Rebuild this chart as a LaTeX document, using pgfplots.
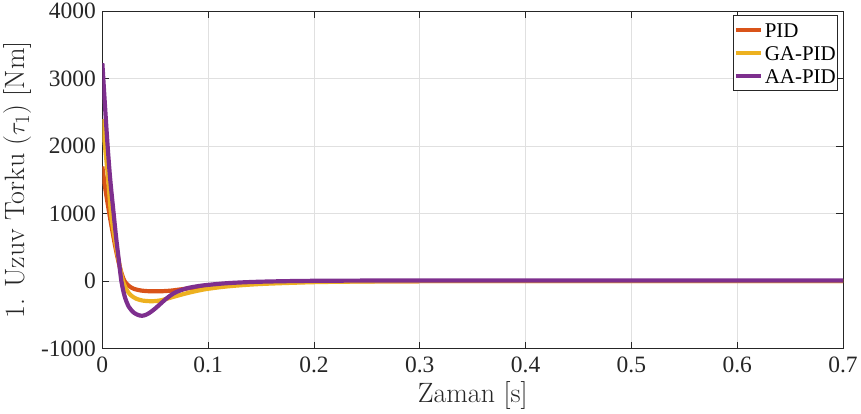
\documentclass[border=0pt]{standalone}
\usepackage{pgfplots}
\pgfplotsset{compat=1.18}
\usepackage{fontspec}
\newfontfamily\timesf{Liberation Serif}
\definecolor{mred}{rgb}{0.850,0.325,0.098}
\definecolor{myel}{rgb}{0.929,0.694,0.125}
\definecolor{mpur}{rgb}{0.494,0.184,0.556}
\begin{document}
\begin{tikzpicture}
\begin{axis}[
  scale only axis, width=742pt, height=338pt,
  xmin=0, xmax=0.7, ymin=-1000, ymax=4000,
  xtick={0,0.1,0.2,0.3,0.4,0.5,0.6,0.7},
  ytick={-1000,0,1000,2000,3000,4000},
  scaled ticks=false,
  /pgf/number format/assume math mode=true,
  /pgf/number format/1000 sep={},
  xticklabel style={/pgf/number format/fixed,/pgf/number format/precision=1, yshift=-5pt},
  yticklabel style={xshift=-3pt},
  tick label style={font=\timesf\fontsize{23.5}{26}\selectfont, text=black!85},
  grid=major,
  major grid style={black!12, line width=0.8pt},
  tick align=inside, major tick length=7pt,
  tick style={black!85, line width=0.8pt},
  axis line style={black!85, line width=0.8pt},
  xlabel={Zaman [s]},
  ylabel={1. Uzuv Torku ($\tau_1$) [Nm]},
  label style={font=\fontsize{28}{32}\selectfont, text=black!85},
  xlabel style={yshift=-2pt},
  ylabel style={yshift=3pt},
  legend style={at={(0.9935,0.988)}, anchor=north east, draw=black!85, line width=0.8pt,
     font=\timesf\fontsize{21}{23}\selectfont, inner xsep=0pt, inner ysep=3.5pt, row sep=1.5pt,
     column sep=0pt,
     cells={anchor=west, text height=16pt, text depth=6pt, inner xsep=1pt}},
  legend image code/.code={\draw[#1, line width=4pt] (0pt,0pt) -- (25pt,0pt);},
  legend cell align=left,
]
\addplot[mred, line width=4.2pt, smooth] coordinates {
(0,1700) (0.0025,1400) (0.0066,1000) (0.01,700) (0.013,450) (0.016,240) (0.0185,100)
(0.021,0) (0.025,-70) (0.03,-115) (0.037,-140) (0.045,-150) (0.055,-150) (0.065,-140)
(0.075,-120) (0.085,-100) (0.1,-78) (0.12,-52) (0.15,-28) (0.2,-8) (0.3,0) (0.5,0) (0.7,0)};
\addlegendentry{PID}
\addplot[myel, line width=4.2pt, smooth] coordinates {
(0,2400) (0.0025,2000) (0.005,1600) (0.0082,1000) (0.011,700) (0.014,420) (0.017,180)
(0.0195,0) (0.023,-130) (0.027,-210) (0.032,-260) (0.038,-288) (0.045,-297) (0.05,-295)
(0.055,-285) (0.06,-265) (0.07,-220) (0.08,-178) (0.09,-142) (0.1,-113) (0.12,-75)
(0.15,-42) (0.2,-15) (0.25,-5) (0.3,0) (0.5,0) (0.7,0)};
\addlegendentry{GA-PID}
\addplot[mpur, line width=4.2pt, smooth] coordinates {
(0,3230) (0.0025,2600) (0.005,2000) (0.0075,1500) (0.0107,1000) (0.013,650) (0.0155,320)
(0.018,0) (0.021,-220) (0.025,-380) (0.03,-470) (0.035,-508) (0.0375,-513) (0.041,-500)
(0.045,-465) (0.05,-405) (0.055,-335) (0.06,-265) (0.065,-205) (0.07,-160) (0.08,-105)
(0.09,-75) (0.1,-55) (0.12,-28) (0.15,-8) (0.2,5) (0.3,10) (0.5,10) (0.7,10)};
\addlegendentry{AA-PID}
\end{axis}
\end{tikzpicture}
\end{document}
